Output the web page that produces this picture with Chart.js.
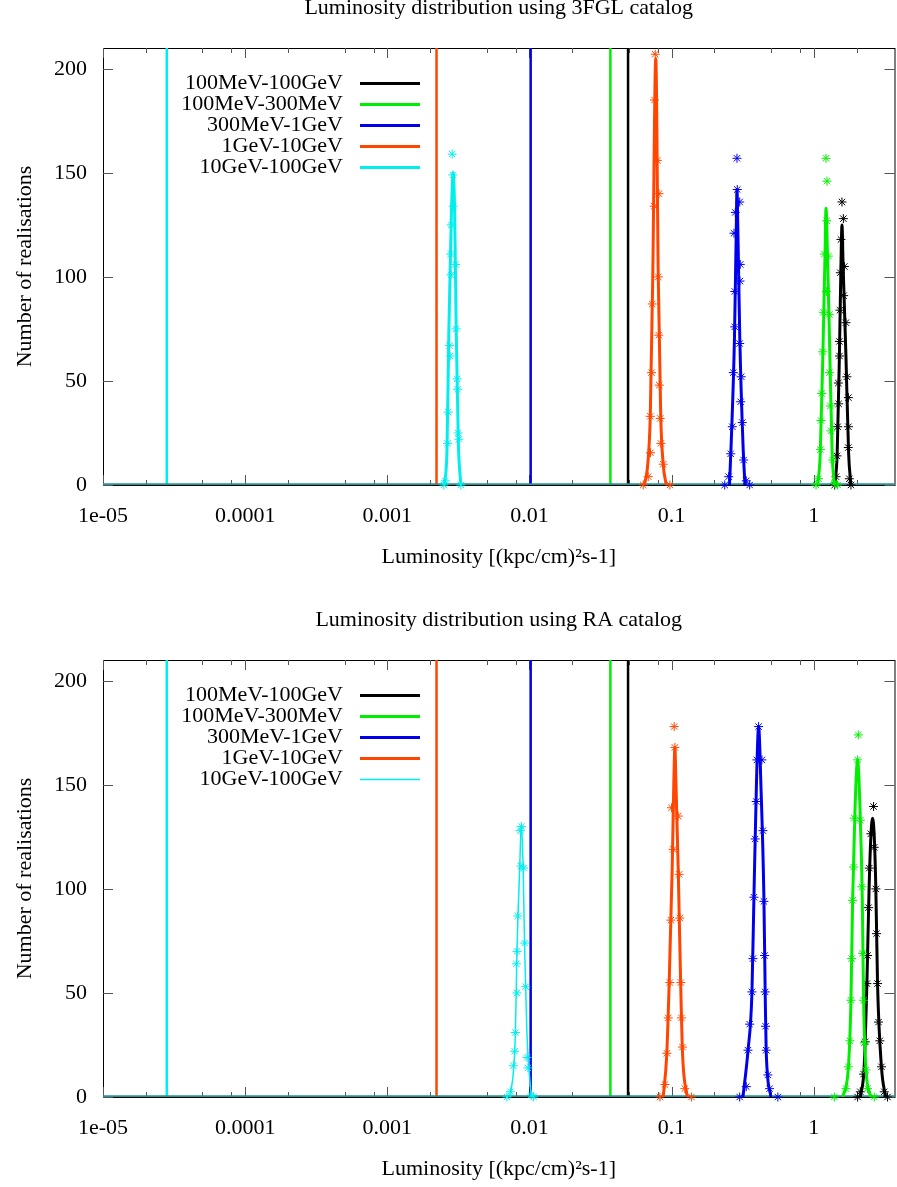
<!DOCTYPE html>
<html lang="en">
<head>
<meta charset="utf-8">
<title>Luminosity distribution</title>
<script src="https://cdn.jsdelivr.net/npm/chart.js@4.4.1/dist/chart.umd.min.js"></script>
<style>
  html, body { margin: 0; padding: 0; background: #fff; overflow: hidden; }
  #page { position: relative; width: 897px; height: 1187px; overflow: hidden; background: #fff; }
  .panel { position: absolute; left: 0; width: 900px; height: 612px; }
  #panel-3fgl { top: -32px; }
  #panel-ra   { top: 580px; }
</style>
</head>
<body>
<div id="page">
  <div class="panel" id="panel-3fgl"><canvas id="chart-3fgl"></canvas></div>
  <div class="panel" id="panel-ra"><canvas id="chart-ra"></canvas></div>
</div>

<script>
/* =========================================================
   Axes, ticks, bands
   ========================================================= */
const xMin = 1e-5;
const xMax = 3.7;
const yMin = 0;
const yMax = 210;

const xTickValues = [1e-5, 1e-4, 1e-3, 1e-2, 1e-1, 1];
const xTickLabels = ['1e-05', '0.0001', '0.001', '0.01', '0.1', '1'];
const xMinorTicks = [2e-5, 5e-5, 8e-5, 2e-4, 5e-4, 8e-4, 2e-3, 5e-3, 8e-3,
                     2e-2, 5e-2, 8e-2, 0.2, 0.5, 0.8, 2];
const yTickValues = [0, 50, 100, 150, 200];

const bandLabels = ['100MeV-100GeV', '100MeV-300MeV', '300MeV-1GeV', '1GeV-10GeV', '10GeV-100GeV'];
const bandColors = ['#000000', '#00ee00', '#0000ee', '#ff4500', '#00eeee'];
const refValues  = [0.0494, 0.0371, 0.0102, 0.00222, 0.0000281];

/* ---- 3FGL catalog : [luminosity, realisations] ---- */
const fglBlackPts = [[1.404,0],[1.434,4],[1.457,14],[1.474,28],[1.490,49],[1.498,39],[1.515,69],[1.518,62],
  [1.529,84],[1.539,102],[1.554,118],[1.580,136],[1.616,128],[1.624,91],[1.642,105],[1.685,78],
  [1.712,52],[1.752,42],[1.755,28],[1.750,18],[1.780,3],[1.827,0]];
const fglBlackFit = [[1.404,0],[1.462,15],[1.515,62],[1.554,105],[1.580,125],[1.610,105],[1.685,62],[1.760,15],[1.827,0]];

const fglGreenPts = [[1.038,0],[1.079,3],[1.114,17],[1.125,31],[1.138,44],[1.156,64],[1.170,83],[1.189,111],
  [1.220,157],[1.240,146],[1.234,127],[1.232,93],[1.268,110],[1.289,82],[1.290,54],[1.310,38],
  [1.322,26],[1.359,12],[1.397,1],[1.473,0]];
const fglGreenFit = [[1.067,0],[1.111,15],[1.162,66],[1.200,110],[1.220,133],[1.250,110],[1.295,66],[1.348,15],[1.397,0]];

const fglBluePts = [[0.2365,0],[0.2522,4],[0.2605,15],[0.2673,28],[0.2717,54],[0.2779,76],[0.2785,93],
  [0.2748,121],[0.2806,131],[0.2884,157],[0.2898,142],[0.3013,136],[0.3042,106],[0.3028,98],
  [0.3013,68],[0.3092,52],[0.3062,40],[0.3142,30],[0.3214,12],[0.3352,2],[0.3541,0]];
const fglBlueFit = [[0.2555,0],[0.2626,20],[0.2770,71],[0.2847,120],[0.2884,142],[0.2931,120],[0.3018,71],[0.3178,20],[0.3282,0]];

const fglOrangePts = [[0.0632,0],[0.0685,4],[0.0711,15.5],[0.0708,33],[0.0723,54],[0.0731,87],[0.0755,134],
  [0.0758,185],[0.0767,207],[0.0793,156],[0.0815,140],[0.0806,100],[0.0812,72],[0.0819,48],
  [0.0832,32],[0.0841,20],[0.0873,10],[0.0973,0]];
const fglOrangeFit = [[0.0643,0],[0.0680,10],[0.0708,33],[0.0737,100],[0.0774,205],[0.0806,100],[0.0839,33],[0.0873,10],[0.0917,0]];

const fglCyanPts = [[0.00250,0],[0.00256,2],[0.00266,20],[0.00268,35],[0.00274,67],[0.00277,62],[0.00279,111],
  [0.00281,101],[0.00282,125],[0.00286,159],[0.00289,149],[0.00291,134],[0.00302,106],[0.00305,75],
  [0.00310,51],[0.00312,46],[0.00315,25],[0.00319,22],[0.00329,0]];
const fglCyanFit = [[0.00250,0],[0.002626,15],[0.002712,75],[0.002824,130],[0.002907,150],[0.002979,130],
  [0.003052,75],[0.003162,20],[0.003292,0]];

/* ---- RA catalog ---- */
const raBlackPts = [[2.035,0],[2.126,2.5],[2.242,11],[2.305,26.5],[2.365,54.5],[2.392,68],[2.431,91],[2.459,110],
  [2.523,126.5],[2.636,139.6],[2.666,120],[2.735,100],[2.766,78.5],[2.812,54.5],[2.857,36],[2.918,27],
  [2.999,14.5],[3.133,2.5],[3.304,0]];
const raBlackFit = [[2.126,0],[2.261,14],[2.365,54],[2.451,100],[2.523,125],[2.594,134],[2.666,125],[2.735,100],
  [2.812,54],[2.999,14],[3.199,0]];

const raGreenPts = [[1.397,0],[1.685,4],[1.752,14.5],[1.797,27],[1.827,46.5],[1.848,66.5],[1.878,94.5],[1.908,110.5],
  [1.930,134],[2.035,162],[2.058,174],[2.126,133],[2.182,101],[2.207,69],[2.242,46.5],[2.268,26],
  [2.327,13],[2.392,4],[2.666,0]];
const raGreenFit = [[1.598,0],[1.752,14],[1.827,46],[1.878,95],[1.955,140],[2.035,162],[2.113,140],[2.196,95],
  [2.242,46],[2.327,14],[2.511,0]];

const raBluePts = [[0.3013,0],[0.3352,5],[0.3445,22.5],[0.3541,35],[0.3675,50.5],[0.3735,66.5],[0.3796,96],
  [0.3876,124],[0.3939,142],[0.3984,162],[0.4095,178],[0.4319,162],[0.4389,128],[0.4461,94],
  [0.4511,68],[0.4555,50.5],[0.4585,34],[0.4630,22.5],[0.4758,10.6],[0.4891,4],[0.5593,0]];
const raBlueFit = [[0.3178,0],[0.3445,22],[0.3675,50],[0.3796,96],[0.3952,150],[0.4095,178],[0.4250,150],
  [0.4461,96],[0.4555,50],[0.4630,22],[0.4995,0]];

const raOrangePts = [[0.0828,0],[0.0898,6],[0.0927,21],[0.0947,38],[0.0973,55],[0.0989,85],[0.0998,139],
  [0.1026,119],[0.1043,178],[0.1055,168],[0.1113,135],[0.1131,107],[0.1143,86],[0.1162,55],
  [0.1173,38],[0.1193,24],[0.1240,4],[0.1379,0]];
const raOrangeFit = [[0.0873,0],[0.0924,20],[0.0962,55],[0.1010,110],[0.1036,150],[0.1055,168],[0.1074,150],
  [0.1113,110],[0.1158,55],[0.1196,20],[0.1287,0]];

const raCyanPts = [[0.00695,0],[0.00735,2.5],[0.00771,15],[0.00787,22],[0.00796,31],[0.00817,50],[0.00809,64],
  [0.00818,70],[0.00827,87],[0.00872,111],[0.00877,130],[0.00861,128],[0.00911,110],[0.00926,74],
  [0.00941,53],[0.00961,19],[0.00976,14],[0.01031,1],[0.01070,0]];
const raCyanFit = [[0.00735,0],[0.00796,30],[0.00817,70],[0.00854,110],[0.00877,131],[0.00903,110],
  [0.00926,70],[0.00961,30],[0.01031,0]];

/* ================================================================
   Style
================================================================= */
const FONT = "'Liberation Serif', 'Times New Roman', serif";
const FONT_SIZE = 22;
Chart.defaults.font.family = FONT;
Chart.defaults.font.size   = FONT_SIZE;
Chart.defaults.color       = '#000';

const toXY = arr => arr.map(([x, y]) => ({ x, y }));

/* ---- frame + inward ticks, gnuplot style ---- */
const gnuFrame = {
  id: 'gnuFrame',
  beforeDatasetsDraw(chart) {
    const { ctx, chartArea: a, scales: { x, y } } = chart;
    ctx.save();
    ctx.strokeStyle = '#000';
    ctx.lineWidth = 1;
    ctx.strokeRect(a.left + 0.5, a.top + 0.5, a.right - a.left, a.bottom - a.top);

    ctx.strokeStyle = '#555';
    ctx.beginPath();
    const xTick = (v, len) => {
      const px = Math.round(x.getPixelForValue(v)) + 0.5;
      ctx.moveTo(px, a.bottom); ctx.lineTo(px, a.bottom - len);
      ctx.moveTo(px, a.top);    ctx.lineTo(px, a.top + len);
    };
    xTickValues.forEach(v => xTick(v, 10));
    xMinorTicks.forEach(v => xTick(v, 5));
    yTickValues.forEach(v => {
      const py = Math.round(y.getPixelForValue(v)) + 0.5;
      ctx.moveTo(a.left, py);  ctx.lineTo(a.left + 10, py);
      ctx.moveTo(a.right, py); ctx.lineTo(a.right - 10, py);
    });
    ctx.stroke();
    ctx.restore();
  },
};

/* ---- legend drawn inside the plot, top left ---- */
const insideLegend = {
  id: 'insideLegend',
  afterDatasetsDraw(chart) {
    const { ctx, chartArea: a } = chart;
    const items = chart.data.datasets.filter(d => d.inLegend);
    ctx.save();
    ctx.font = `${FONT_SIZE}px ${FONT}`;
    ctx.textAlign = 'right';
    ctx.textBaseline = 'middle';
    items.forEach((d, i) => {
      const yy = a.top + 35 + i * 21;
      ctx.fillStyle = '#000';
      ctx.fillText(d.label, a.left + 240, yy);
      ctx.strokeStyle = d.borderColor;
      ctx.lineWidth = d.borderWidth;
      ctx.beginPath();
      ctx.moveTo(a.left + 257, yy + 0.5);
      ctx.lineTo(a.left + 317, yy + 0.5);
      ctx.stroke();
    });
    ctx.restore();
  },
};

function makeDatasets(pts, fits, fitWidths) {
  const ds = [];
  bandLabels.forEach((label, i) => {
    const color = bandColors[i];
    const depth = 20 - i * 3;   /* black drawn first, cyan last */
    ds.push({
      type: 'line', label, inLegend: true,
      data: toXY(fits[i]),
      borderColor: color, borderWidth: fitWidths[i],
      pointRadius: 0, cubicInterpolationMode: 'monotone',
      order: depth - 1,
    });
    ds.push({
      type: 'line', label: label + ' (realisations)',
      data: toXY(pts[i]),
      showLine: false, pointStyle: 'star', pointRadius: 4.5,
      borderColor: color, pointBorderColor: color, pointBorderWidth: 1,
      clip: 8, order: depth,
    });
    ds.push({
      type: 'line', label: label + ' (reference)',
      data: [{ x: refValues[i], y: yMin }, { x: refValues[i], y: yMax }],
      borderColor: color, borderWidth: 2.5, pointRadius: 0,
      order: 100 + i,
    });
  });
  ds.push({
    type: 'line', label: 'zero',
    data: [{ x: xMin, y: 0 }, { x: xMax, y: 0 }],
    borderColor: '#239595', borderWidth: 3.5, pointRadius: 0,
    order: 50,
  });
  return ds;
}

function makeChart(canvasId, titleText, pts, fits, fitWidths) {
  return new Chart(document.getElementById(canvasId), {
    type: 'line',
    data: { datasets: makeDatasets(pts, fits, fitWidths) },
    options: {
      responsive: true,
      maintainAspectRatio: false,
      animation: false,
      events: [],
      layout: { padding: { left: 0, right: 2, top: 0, bottom: 0 } },
      plugins: {
        legend:  { display: false },
        tooltip: { enabled: false },
        title: {
          display: true, text: titleText, fullSize: false,
          font: { size: FONT_SIZE, weight: 'normal', lineHeight: 1.2 },
          color: '#000',
          padding: { top: 27, bottom: 26.6 },
        },
      },
      scales: {
        x: {
          type: 'logarithmic', min: xMin, max: xMax,
          grid:   { display: false, drawTicks: false },
          border: { display: false },
          ticks: {
            padding: 18, maxRotation: 0, autoSkip: false,
            callback: (v, i) => xTickLabels[i],
          },
          afterBuildTicks: s => { s.ticks = xTickValues.map(v => ({ value: v, major: false })); },
          afterFit: s => { s.height = 95; },
          title: {
            display: true, text: 'Luminosity [(kpc/cm)²s-1]',
            padding: { top: 0, bottom: 10 },
          },
        },
        y: {
          min: yMin, max: yMax,
          grid:   { display: false, drawTicks: false },
          border: { display: false },
          ticks:  { padding: 16 },
          afterBuildTicks: s => { s.ticks = yTickValues.map(v => ({ value: v })); },
          afterFit: s => { s.width = 103; },
          title: {
            display: true, text: 'Number of realisations',
            padding: { top: 12, bottom: 0 },
          },
        },
      },
    },
    plugins: [gnuFrame, insideLegend],
  });
}

/* ---- Init ---- */
makeChart('chart-3fgl', 'Luminosity distribution using 3FGL catalog',
  [fglBlackPts, fglGreenPts, fglBluePts, fglOrangePts, fglCyanPts],
  [fglBlackFit, fglGreenFit, fglBlueFit, fglOrangeFit, fglCyanFit],
  [3, 3, 3, 3, 3]);

makeChart('chart-ra', 'Luminosity distribution using RA catalog',
  [raBlackPts, raGreenPts, raBluePts, raOrangePts, raCyanPts],
  [raBlackFit, raGreenFit, raBlueFit, raOrangeFit, raCyanFit],
  [3, 3, 3, 3, 1.5]);
</script>
</body>
</html>
